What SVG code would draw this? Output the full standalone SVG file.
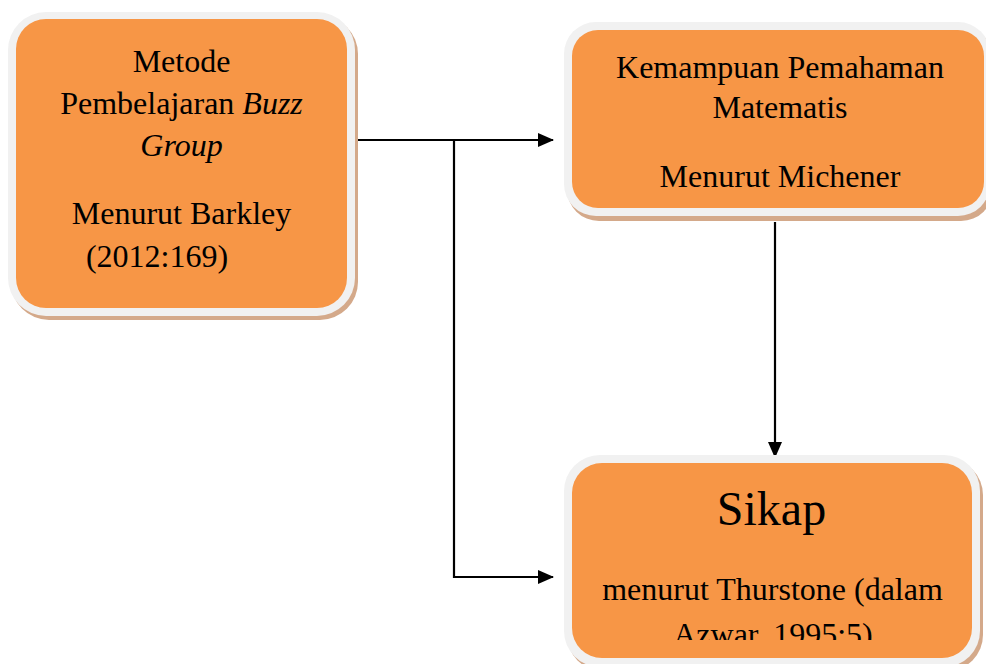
<svg xmlns="http://www.w3.org/2000/svg" width="986" height="664" viewBox="0 0 986 664">
<style>
.shadow{fill:#D4A98A}
.rim{fill:#F1F1F1}
.body{fill:#F79646}
text{font-family:"Liberation Serif","Times New Roman",serif;font-size:32px;fill:#000;text-anchor:middle}
text.big{font-size:48px}
.conn{stroke:#000;stroke-width:2.2;fill:none}
</style>
<defs>
<marker id="arr" markerWidth="16" markerHeight="14" refX="15" refY="7" orient="auto" markerUnits="userSpaceOnUse">
<path d="M0,0 L16,7 L0,14 Z" fill="#000"/>
</marker>
<clipPath id="clip3"><rect x="572" y="463" width="400" height="177"/></clipPath>
</defs>
<g id="connectors">
<path class="conn" d="M352,140 H553" marker-end="url(#arr)"/>
<path class="conn" d="M454,140 V577 H553" marker-end="url(#arr)"/>
<path class="conn" d="M775,222 V457" marker-end="url(#arr)"/>
</g>
<g id="node-metode">
<rect class="shadow" x="11" y="16" width="347" height="304" rx="38"/>
<rect class="rim" x="8" y="12" width="347" height="304" rx="38"/>
<rect class="body" x="16" y="19" width="331" height="289" rx="30"/>
<text x="181.5" y="72">Metode</text>
<text x="181.5" y="114">Pembelajaran <tspan font-style="italic">Buzz</tspan></text>
<text x="181.5" y="156" font-style="italic">Group</text>
<text x="181.5" y="224">Menurut Barkley</text>
<text x="157" y="267">(2012:169)</text>
</g>
<g id="node-kemampuan">
<rect class="shadow" x="567" y="27" width="426" height="194" rx="32"/>
<rect class="rim" x="564" y="22" width="426" height="194" rx="32"/>
<rect class="body" x="572" y="30" width="412" height="178" rx="26"/>
<text x="780" y="78">Kemampuan Pemahaman</text>
<text x="780" y="118">Matematis</text>
<text x="780" y="187">Menurut Michener</text>
</g>
<g id="node-sikap">
<rect class="shadow" x="567" y="459" width="416" height="212" rx="36"/>
<rect class="rim" x="564" y="455" width="416" height="212" rx="36"/>
<rect class="body" x="572" y="463" width="400" height="195" rx="30"/>
<text class="big" x="771.5" y="525">Sikap</text>
<text x="772.5" y="600">menurut Thurstone (dalam</text>
<text x="773" y="645" clip-path="url(#clip3)">Azwar, 1995:5)</text>
</g>
</svg>
